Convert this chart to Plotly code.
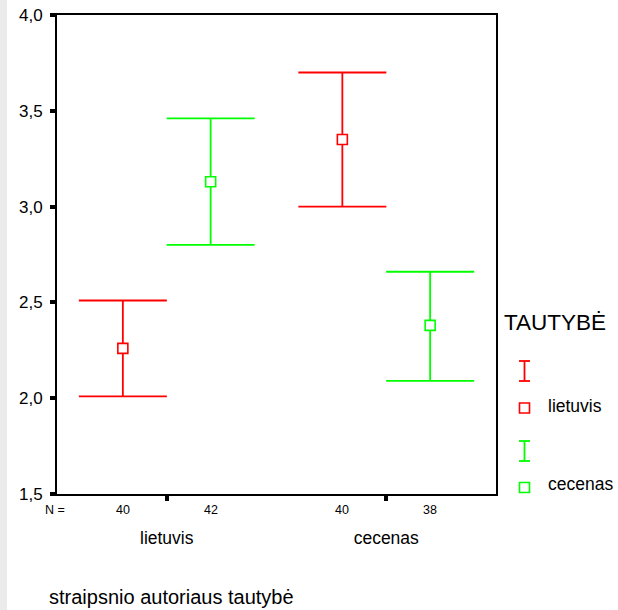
import plotly.graph_objects as go

groups = ["lietuvis", "cecenas"]
series = ["lietuvis", "cecenas"]
colors = ["#ff0000", "#00ff00"]
means = {"lietuvis": [2.26, 3.35], "cecenas": [3.13, 2.38]}
upper = {"lietuvis": [2.51, 3.70], "cecenas": [3.46, 2.66]}
lower = {"lietuvis": [2.01, 3.00], "cecenas": [2.80, 2.09]}
counts = {"lietuvis": [40, 40], "cecenas": [42, 38]}
y_ticks = [1.5, 2.0, 2.5, 3.0, 3.5, 4.0]

FONT = "Liberation Sans, Arial, sans-serif"
offsets = [-0.2, 0.2]

fig = go.Figure()
for si, s in enumerate(series):
    xs = [gi + offsets[si] for gi in range(len(groups))]
    ys = means[s]
    fig.add_trace(go.Scatter(
        x=xs, y=ys, mode="markers", showlegend=False,
        marker=dict(symbol="square", size=10, color="white",
                    line=dict(color=colors[si], width=1.6)),
        error_y=dict(type="data", symmetric=False,
                     array=[u - m for u, m in zip(upper[s], ys)],
                     arrayminus=[m - l for m, l in zip(ys, lower[s])],
                     color=colors[si], thickness=1.8, width=44),
    ))
    for gi, n in enumerate(counts[s]):
        fig.add_annotation(x=xs[gi], y=-16/479, xref="x", yref="paper",
                           xanchor="center", yanchor="middle",
                           text=str(n), showarrow=False,
                           font=dict(size=12.5, color="black", family=FONT))

fig.add_annotation(x=-2/439, y=-16/479, xref="paper", yref="paper", text="N =",
                   xanchor="center", yanchor="middle",
                   showarrow=False, font=dict(size=12.5, color="black", family=FONT))
fig.add_annotation(x=-10/439, y=-103/479, xref="paper", yref="paper", xanchor="left",
                   yanchor="middle",
                   text="straipsnio autoriaus tautybė", showarrow=False,
                   font=dict(size=20, color="black", family=FONT))

# gray strip at left edge
fig.add_shape(type="rect", xref="paper", yref="paper",
              x0=-57/439, x1=-50/439, y0=-116/479, y1=1 + 15/479,
              fillcolor="#ebebeb", line=dict(width=0), layer="below")

# legend (manual)
def px(xp):
    return (xp - 57) / 439

def py(yp):
    return (494 - yp) / 479

fig.add_annotation(x=px(502), y=py(322), xref="paper", yref="paper", xanchor="left",
                   yanchor="middle", text="TAUTYBĖ", showarrow=False,
                   font=dict(size=22.5, color="black", family=FONT))
leg_rows = [(371, 408), (451, 487.5)]
leg_label_y = [406, 484]
for si, s in enumerate(series):
    cy_bar, cy_sq = leg_rows[si]
    c = colors[si]
    lw = 1.8
    fig.add_shape(type="line", xref="paper", yref="paper",
                  x0=px(524.5), x1=px(524.5), y0=py(cy_bar - 10), y1=py(cy_bar + 10),
                  line=dict(color=c, width=lw))
    for yy in (cy_bar - 10, cy_bar + 10):
        fig.add_shape(type="line", xref="paper", yref="paper",
                      x0=px(519), x1=px(530), y0=py(yy), y1=py(yy),
                      line=dict(color=c, width=lw))
    fig.add_shape(type="rect", xref="paper", yref="paper",
                  x0=px(519.5), x1=px(529.5), y0=py(cy_sq - 5), y1=py(cy_sq + 5),
                  line=dict(color=c, width=1.6), fillcolor="white")
    fig.add_annotation(x=px(546), y=py(leg_label_y[si]), xref="paper", yref="paper",
                       xanchor="left", yanchor="middle", text=s, showarrow=False,
                       font=dict(size=17.5, color="black", family=FONT))

fig.update_layout(
    width=618, height=610,
    margin=dict(l=57, r=122, t=15, b=116, autoexpand=False),
    paper_bgcolor="white", plot_bgcolor="white",
    separators=",.",
    font=dict(family=FONT, color="black"),
    showlegend=False,
    xaxis=dict(range=[-0.5, 1.5], tickvals=list(range(len(groups))), ticktext=groups,
               showgrid=False, zeroline=False, showline=True, linecolor="black",
               linewidth=2, mirror=True, ticks="outside", ticklen=5, tickwidth=4,
               tickcolor="black", tickfont=dict(size=17.5, family=FONT, color="black"),
               ticklabelstandoff=22, automargin=False),
    yaxis=dict(range=[1.5, 4.0], tickvals=y_ticks, tickformat=".1f",
               showgrid=False, zeroline=False, showline=True, linecolor="black",
               linewidth=2, mirror=True, ticks="outside", ticklen=5, tickwidth=4,
               tickcolor="black", tickfont=dict(size=17, family=FONT, color="black"),
               ticklabelstandoff=4, automargin=False),
)

fig.write_html("out.html", config={"displayModeBar": False},
               post_script="document.body.style.margin='0';")
